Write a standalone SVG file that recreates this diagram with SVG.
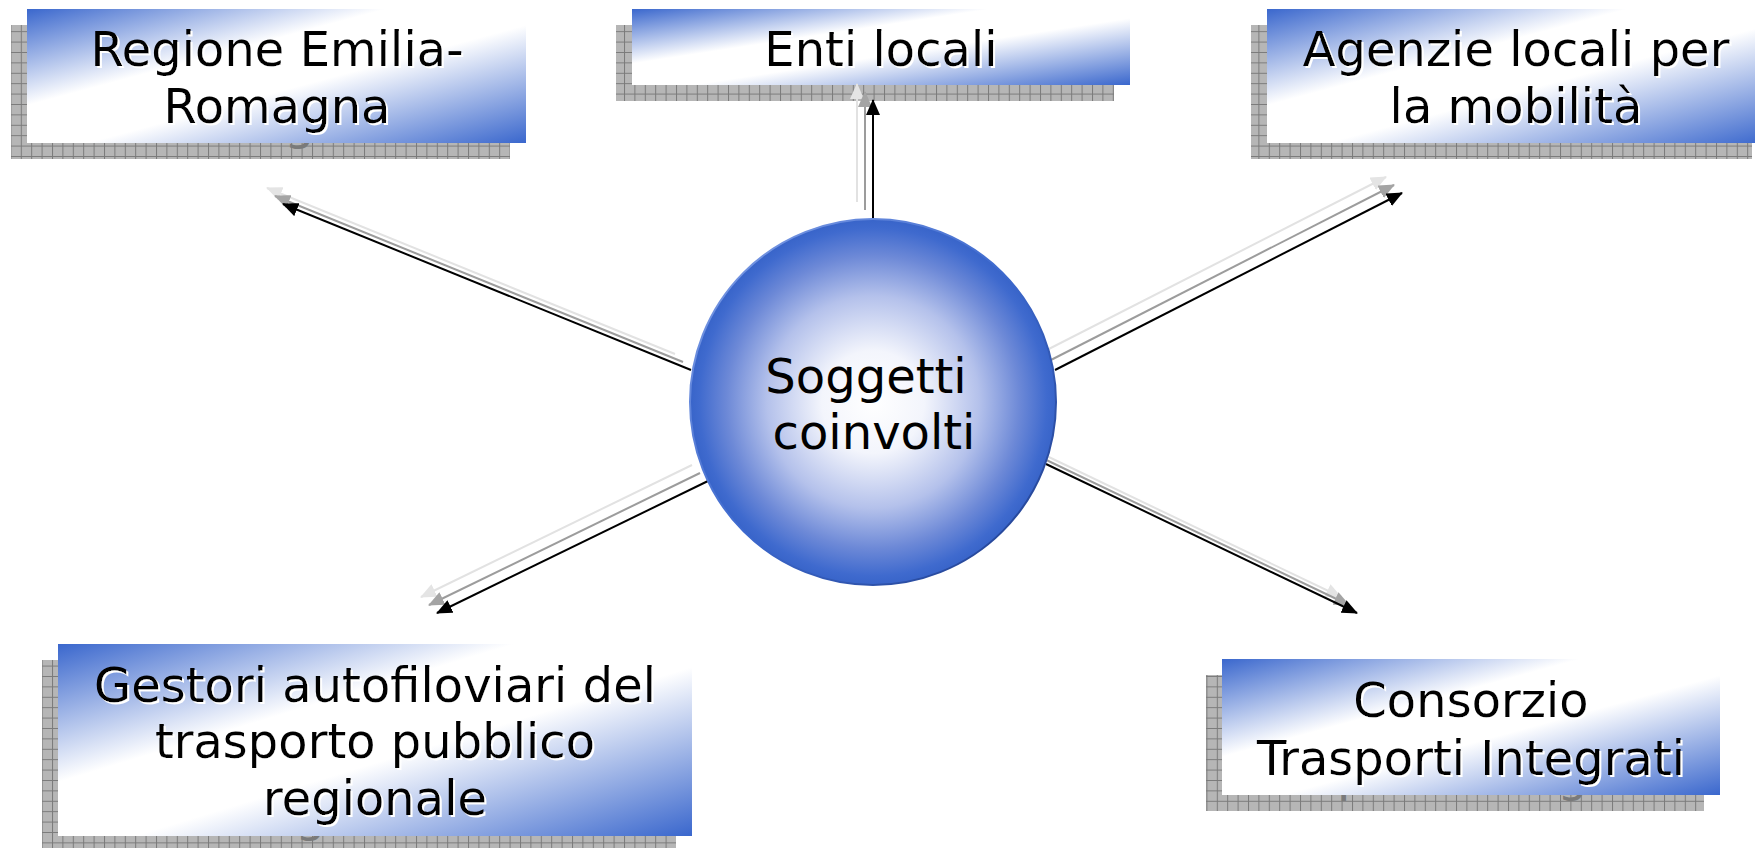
<svg xmlns="http://www.w3.org/2000/svg" xmlns:xlink="http://www.w3.org/1999/xlink" width="1755" height="848" viewBox="0 0 1755 848">
<style>
.t{font-family:"DejaVu Sans","Verdana",sans-serif;font-size:48px;text-anchor:middle}
.lbl{fill:#000;filter:url(#ws)}
.box{fill:url(#boxg)}
.shd{fill:url(#grid)}
.k{stroke:#000;stroke-width:2;fill:none;marker-end:url(#ak)}
.g{stroke:#9c9c9c;stroke-width:2;fill:none;marker-end:url(#ag)}
.l{stroke:#e2e2e2;stroke-width:2;fill:none;marker-end:url(#al)}
</style>
<defs>
<linearGradient id="boxg" x1="0" y1="0" x2="1" y2="1">
<stop offset="0" stop-color="#3a67cd"/>
<stop offset="0.36" stop-color="#ffffff"/>
<stop offset="0.56" stop-color="#ffffff"/>
<stop offset="1" stop-color="#3a67cd"/>
</linearGradient>
<radialGradient id="circg" cx="0.5" cy="0.5" r="0.5">
<stop offset="0" stop-color="#ffffff"/>
<stop offset="0.28" stop-color="#f3f5fc"/>
<stop offset="0.58" stop-color="#b4c1eb"/>
<stop offset="0.8" stop-color="#6d89d7"/>
<stop offset="0.95" stop-color="#3f6ace"/>
<stop offset="1" stop-color="#3864c9"/>
</radialGradient>
<linearGradient id="rimg" x1="0" y1="0" x2="1" y2="1">
<stop offset="0" stop-color="#86a3e8"/>
<stop offset="0.5" stop-color="#3d69ce"/>
<stop offset="1" stop-color="#1f3c88"/>
</linearGradient>
<pattern id="grid" width="10.4" height="10.4" patternUnits="userSpaceOnUse">
<rect width="10.4" height="10.4" fill="#b6b6b6"/>
<path d="M0,0.5H10.4M0.5,0V10.4" stroke="#7a7a7a" stroke-width="1"/>
</pattern>
<filter id="ws" x="-5%" y="-10%" width="110%" height="130%">
<feDropShadow dx="2" dy="2" stdDeviation="0" flood-color="#ffffff" flood-opacity="1"/>
</filter>
<marker id="ak" viewBox="0 0 16 14" refX="15" refY="7" markerWidth="16" markerHeight="14" markerUnits="userSpaceOnUse" orient="auto"><path d="M0,0L16,7L0,14z" fill="#000"/></marker>
<marker id="ag" viewBox="0 0 16 14" refX="15" refY="7" markerWidth="16" markerHeight="14" markerUnits="userSpaceOnUse" orient="auto"><path d="M0,0L16,7L0,14z" fill="#a4a4a4"/></marker>
<marker id="al" viewBox="0 0 16 14" refX="15" refY="7" markerWidth="16" markerHeight="14" markerUnits="userSpaceOnUse" orient="auto"><path d="M0,0L16,7L0,14z" fill="#e4e4e4"/></marker>
</defs>
<rect width="1755" height="848" fill="#ffffff"/>

<g id="node-regione">
<rect class="shd" x="11" y="25" width="499" height="134"/>
<use xlink:href="#t-regione" href="#t-regione" transform="translate(-16,16)" fill="#7a7a7a"/>
<rect class="box" x="27" y="9" width="499" height="134"/>
<g class="lbl"><text id="t-regione" class="t"><tspan x="277" y="66">Regione Emilia-</tspan><tspan x="277" y="123">Romagna</tspan></text></g>
</g>

<g id="node-enti">
<rect class="shd" x="616" y="25" width="498" height="76"/>
<rect class="box" x="632" y="9" width="498" height="76"/>
<g class="lbl"><text id="t-enti" class="t"><tspan x="881" y="66">Enti locali</tspan></text></g>
</g>

<g id="node-agenzie">
<rect class="shd" x="1251" y="25" width="501" height="134"/>
<rect class="box" x="1267" y="9" width="501" height="134"/>
<g class="lbl"><text id="t-agenzie" class="t"><tspan x="1516" y="66">Agenzie locali per</tspan><tspan x="1516" y="123">la mobilità</tspan></text></g>
</g>

<g id="node-gestori">
<rect class="shd" x="42" y="660" width="634" height="192"/>
<use xlink:href="#t-gestori" href="#t-gestori" transform="translate(-16,16)" fill="#7a7a7a"/>
<rect class="box" x="58" y="644" width="634" height="192"/>
<g class="lbl"><text id="t-gestori" class="t"><tspan x="375" y="702">Gestori autofiloviari del</tspan><tspan x="375" y="758">trasporto pubblico</tspan><tspan x="375" y="815">regionale</tspan></text></g>
</g>

<g id="node-consorzio">
<rect class="shd" x="1206" y="675" width="498" height="136"/>
<use xlink:href="#t-consorzio" href="#t-consorzio" transform="translate(-16,16)" fill="#7a7a7a"/>
<rect class="box" x="1222" y="659" width="498" height="136"/>
<g class="lbl"><text id="t-consorzio" class="t"><tspan x="1471" y="717">Consorzio</tspan><tspan x="1471" y="775">Trasporti Integrati</tspan></text></g>
</g>

<g id="connectors">
<g transform="translate(-16,-16)">
<line class="l" x1="873" y1="218" x2="873" y2="100"/>
<line class="l" x1="691" y1="370" x2="283" y2="204"/>
<line class="l" x1="1055" y1="370" x2="1402" y2="193"/>
<line class="l" x1="708" y1="481" x2="437" y2="613"/>
<line class="l" x1="1046" y1="464" x2="1357" y2="613"/>
</g>
<g transform="translate(-8,-8)">
<line class="g" x1="873" y1="218" x2="873" y2="100"/>
<line class="g" x1="691" y1="370" x2="283" y2="204"/>
<line class="g" x1="1055" y1="370" x2="1402" y2="193"/>
<line class="g" x1="708" y1="481" x2="437" y2="613"/>
<line class="g" x1="1046" y1="464" x2="1357" y2="613"/>
</g>
<line class="k" x1="873" y1="218" x2="873" y2="100"/>
<line class="k" x1="691" y1="370" x2="283" y2="204"/>
<line class="k" x1="1055" y1="370" x2="1402" y2="193"/>
<line class="k" x1="708" y1="481" x2="437" y2="613"/>
<line class="k" x1="1046" y1="464" x2="1357" y2="613"/>
</g>

<g id="node-center">
<circle cx="873" cy="402" r="183" fill="url(#circg)" stroke="url(#rimg)" stroke-width="2"/>
<text class="t" fill="#000"><tspan x="866" y="393">Soggetti</tspan><tspan x="874" y="449">coinvolti</tspan></text>
</g>
</svg>
